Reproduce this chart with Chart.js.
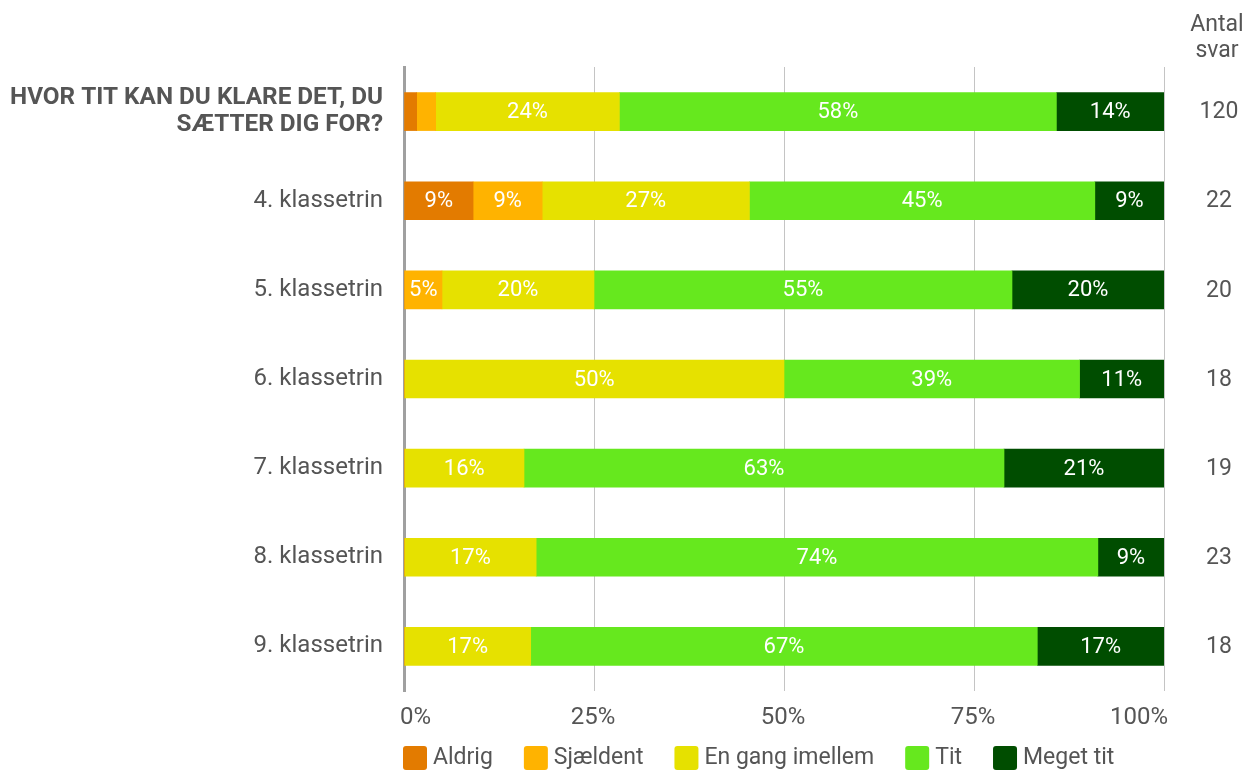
<!DOCTYPE html>
<html>
<head>
<meta charset="utf-8">
<script src="https://cdn.jsdelivr.net/npm/chart.js@4/dist/chart.umd.min.js"></script>
<style>
  body { margin: 0; background: #fff; }
  #wrap { width: 1248px; height: 771px; }
</style>
</head>
<body>
<div id="wrap"><canvas id="chart" width="1248" height="771"></canvas></div>
<script>
// data (shares in % per row)
const categories = [
  ['HVOR TIT KAN DU KLARE DET, DU', 'SÆTTER DIG FOR?'],
  '4. klassetrin', '5. klassetrin', '6. klassetrin',
  '7. klassetrin', '8. klassetrin', '9. klassetrin'
];
const seriesNames = ['Aldrig', 'Sjældent', 'En gang imellem', 'Tit', 'Meget tit'];
const aldrig    = [1.67, 9.09, 0, 0, 0, 0, 0];
const sjaeldent = [2.5, 9.09, 5, 0, 0, 0, 0];
const enGang    = [24.17, 27.27, 20, 50, 15.79, 17.39, 16.67];
const tit       = [57.5, 45.45, 55, 38.89, 63.16, 73.91, 66.66];
const megetTit  = [14.16, 9.1, 20, 11.11, 21.05, 8.7, 16.67];
const antalSvar = [120, 22, 20, 18, 19, 23, 18];
const xTicks = [0, 25, 50, 75, 100];

const colors = ['#e37b00', '#ffb300', '#e6e100', '#66e81e', '#004d00'];
const textColor = '#555555';
const FONT = 'Roboto';

// white percentage labels inside the segments
const segmentLabels = {
  id: 'segmentLabels',
  afterDatasetsDraw(chart) {
    const ctx = chart.ctx;
    ctx.save();
    ctx.font = '22px ' + FONT;
    ctx.fillStyle = '#ffffff';
    ctx.textAlign = 'center';
    ctx.textBaseline = 'middle';
    chart.data.datasets.forEach((ds, di) => {
      const meta = chart.getDatasetMeta(di);
      meta.data.forEach((bar, i) => {
        const v = ds.data[i];
        if (v < 4.5) return;
        const p = bar.getProps(['x', 'y', 'base'], true);
        ctx.fillText(Math.round(v) + '%', (p.x + p.base) / 2, p.y + 1);
      });
    });
    ctx.restore();
  }
};

// x tick labels, legend and the right column with counts
const extras = {
  id: 'extras',
  afterDraw(chart) {
    const ctx = chart.ctx;
    const xs = chart.scales.x, ys = chart.scales.y;
    ctx.save();
    ctx.fillStyle = textColor;
    ctx.textBaseline = 'middle';

    ctx.font = '24px ' + FONT;
    xTicks.forEach((t, i) => {
      const px = xs.getPixelForValue(t);
      if (i === 0) { ctx.textAlign = 'left'; ctx.fillText(t + '%', px - 4, 718); }
      else if (i === xTicks.length - 1) { ctx.textAlign = 'right'; ctx.fillText(t + '%', px + 4, 718); }
      else { ctx.textAlign = 'center'; ctx.fillText(t + '%', px - 1, 718); }
    });

    ctx.font = '23px ' + FONT;
    ctx.textAlign = 'center';
    ctx.fillText('Antal', 1217, 25);
    ctx.fillText('svar', 1217, 51);
    antalSvar.forEach((n, i) => {
      ctx.fillText(String(n), 1219, ys.getPixelForValue(i) + 1);
    });

    // legend
    let x = chart.chartArea.left - 1;
    ctx.textAlign = 'left';
    chart.data.datasets.forEach((ds) => {
      ctx.fillStyle = ds.backgroundColor;
      ctx.beginPath();
      ctx.roundRect(x, 746, 24, 24, 3);
      ctx.fill();
      ctx.fillStyle = textColor;
      ctx.fillText(ds.label, x + 30, 758);
      x += 30 + ctx.measureText(ds.label).width + 31;
    });
    ctx.restore();
  }
};

const data = [aldrig, sjaeldent, enGang, tit, megetTit];

new Chart(document.getElementById('chart'), {
  type: 'bar',
  data: {
    labels: categories,
    datasets: seriesNames.map((name, k) => ({
      label: name,
      data: data[k],
      backgroundColor: colors[k],
      borderWidth: 0,
      barThickness: 38
    }))
  },
  options: {
    indexAxis: 'y',
    responsive: false,
    animation: false,
    layout: { padding: { top: 67, right: 84, left: 0, bottom: 80 } },
    scales: {
      x: {
        stacked: true,
        min: 0,
        max: 100,
        ticks: { stepSize: 25, display: false },
        grid: { color: '#c4c4c4', lineWidth: 1, drawTicks: false },
        border: { display: false }
      },
      y: {
        stacked: true,
        grid: { display: false, drawTicks: false },
        border: { display: true, color: '#a0a0a0', width: 3 },
        afterFit(scale) { scale.width = 404; },
        ticks: {
          padding: 21,
          color: textColor,
          font: (c) => ({ family: FONT, size: c.index === 0 ? 24.3 : 24, lineHeight: 1.13, weight: c.index === 0 ? 'bold' : 'normal' })
        }
      }
    },
    plugins: {
      tooltip: { enabled: false },
      legend: { display: false }
    }
  },
  plugins: [segmentLabels, extras]
});
</script>
</body>
</html>
